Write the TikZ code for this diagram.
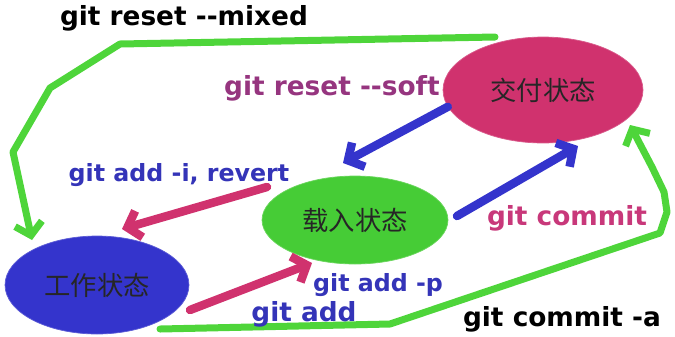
\documentclass[tikz,border=0pt]{standalone}
\usepackage{fontspec}
\setmainfont{DejaVu Sans}
\newfontfamily\cjk{Noto Sans CJK SC}
\usetikzlibrary{arrows.meta,shapes.geometric}
\definecolor{deliver}{HTML}{D0326E}
\definecolor{staged}{HTML}{46CC36}
\definecolor{working}{HTML}{3434CC}
\definecolor{loopgreen}{HTML}{4ED53A}
\definecolor{addblue}{HTML}{3434B8}
\definecolor{softpurple}{HTML}{96357F}
\definecolor{commitred}{HTML}{C8387A}

\begin{document}
\begin{tikzpicture}
  [x=0.02cm, y=-0.02cm,
  state/.style={ellipse, fill=#1, draw=#1!80!white, text=black!85, inner sep=0pt,
    font=\cjk\fontsize{15}{18}\selectfont},
  ]
  \tikzstyle{cmd}=[font=\bfseries\fontsize{15}{18}\selectfont, inner sep=0pt]
  \tikzstyle{small cmd}=[font=\bfseries\fontsize{13.5}{16}\selectfont, inner sep=0pt]
  \tikzstyle{flow}=[line width=0.17cm, line cap=round, line join=round,
    -{Straight Barb[length=0.24cm, width=0.55cm]}]
  \tikzstyle{loop}=[draw=loopgreen, line width=0.14cm, line cap=round, line join=round,
    -{Straight Barb[length=0.24cm, width=0.55cm]}]
  \useasboundingbox (0,0) rectangle (675,336);

  \node[state=deliver, minimum width=4cm, minimum height=2.12cm] (jiaofu) at (543,90) {交付状态};
  \node[state=staged, minimum width=3.72cm, minimum height=1.76cm] (zairu) at (355,220) {载入状态};
  \node[state=working, minimum width=3.68cm, minimum height=1.96cm] (gongzuo) at (97,285) {工作状态};

  \coordinate (softend) at (343,163);
  \coordinate (commitstart) at (457,216);
  \coordinate (commitend) at (578,146);
  \coordinate (revertstart) at (267,187);
  \coordinate (revertend) at (122,229);
  \coordinate (addstart) at (190,310);
  \coordinate (addend) at (312,263);
  \coordinate (mixedstart) at (495,37);
  \coordinate (mixedend) at (32,240);
  \coordinate (allstart) at (160,329);
  \coordinate (allend) at (630,125);

  \draw[flow, working] (jiaofu.190) -- (softend);
  \draw[flow, working] (commitstart) -- (commitend);
  \draw[flow, deliver] (revertstart) -- (revertend);
  \draw[flow, deliver] (addstart) -- (addend);

  \draw[loop] (mixedstart) -- (120,44) -- (50,88) -- (13,152) -- (mixedend);
  \draw[loop] (allstart) -- (390,324) -- (660,233) -- (667,212) -- (664,192)
    -- (652,167) -- (allend);

  \node[cmd, black] (mixed) at (184,18) {git reset -{}-mixed};
  \node[cmd, softpurple] (soft) at (332,88) {git reset -{}-soft};
  \node[small cmd, addblue] (revert) at (179,175) {git add -i, revert};
  \node[cmd, commitred] (commit) at (567,218) {git commit};
  \node[small cmd, addblue] (addp) at (378,285) {git add -p};
  \node[cmd, addblue] (add) at (304,314) {git add};
  \node[cmd, black] (commita) at (562,319) {git commit -a};
\end{tikzpicture}
\end{document}
